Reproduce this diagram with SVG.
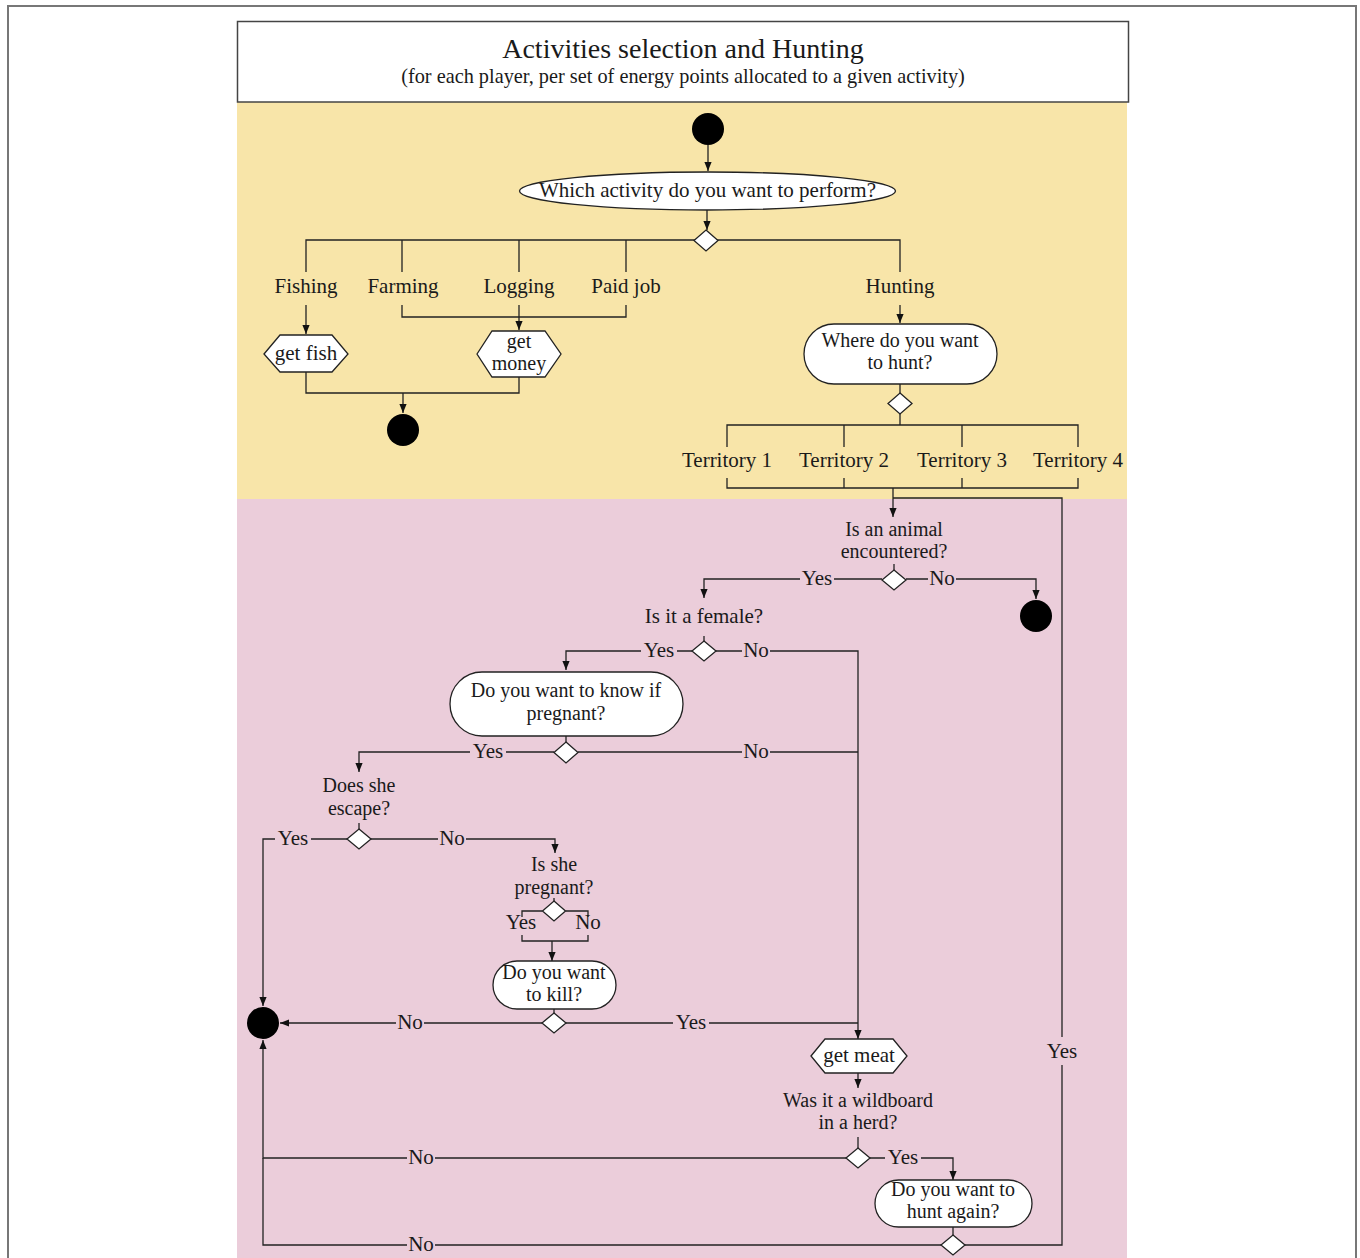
<svg xmlns="http://www.w3.org/2000/svg" width="1360" height="1258" viewBox="0 0 1360 1258">
<defs>
<style>
text{font-family:"Liberation Serif","Times New Roman",serif;fill:#1a1a1a;font-size:21px;text-anchor:middle}
.m{font-size:20px}
.t1{font-size:28px}
.t2{font-size:20.3px}
.ln{fill:none;stroke:#222;stroke-width:1.3}
.arr{marker-end:url(#ah)}
.shape{fill:#fff;stroke:#222;stroke-width:1.3}
.dot{fill:#000}
</style>
<marker id="ah" viewBox="0 0 10 8" refX="10" refY="4" markerWidth="9" markerHeight="7.2" markerUnits="userSpaceOnUse" orient="auto">
<path d="M0,0 L10,4 L0,8 z" fill="#111"/>
</marker>
</defs>
<rect x="8" y="6" width="1348" height="1270" fill="#fff" stroke="#777" stroke-width="2"/>
<rect x="237" y="102" width="890" height="397" fill="#f8e5a9"/>
<rect x="237" y="499" width="890" height="760" fill="#ebcdda"/>
<g id="title">
<rect x="237.5" y="21.5" width="891" height="80.5" fill="#fff" stroke="#444" stroke-width="1.5"/>
<text x="683" y="58"><tspan class="t1">Activities selection and Hunting</tspan><tspan class="t2" x="683" y="83">(for each player, per set of energy points allocated to a given activity)</tspan></text>
</g>
<g id="connectors">
<path class="ln arr" d="M708,145 V171"/>
<path class="ln arr" d="M707,210 V230"/>
<path class="ln" d="M306,272 V240 H900 V272 M402,240 V272 M519,240 V272 M626,240 V272"/>
<path class="ln arr" d="M306,305 V334"/>
<path class="ln" d="M402,305 V317 H626 V305"/>
<path class="ln arr" d="M519,305 V330"/>
<path class="ln" d="M306,372 V393 H519 V377"/>
<path class="ln arr" d="M403,393 V413"/>
<path class="ln arr" d="M900,305 V323"/>
<path class="ln" d="M900,384 V393 M900,414 V425"/>
<path class="ln" d="M727,447 V425 H1078 V447 M844,425 V447 M962,425 V447"/>
<path class="ln" d="M727,478 V488 H1078 V478 M844,478 V488 M962,478 V488"/>
<path class="ln arr" d="M893,488 V517"/>
<path class="ln" d="M965,1245 H1062 V1065 M1062,1037 V498 H893"/>
<path class="ln" d="M894,564 V570"/>
<path class="ln arr" d="M882,579 H834 M800,579 H704 V598"/>
<path class="ln arr" d="M906,579 H928 M956,579 H1036 V599"/>
<path class="ln" d="M704,636 V641"/>
<path class="ln arr" d="M692,651 H677 M641,651 H566 V670"/>
<path class="ln arr" d="M716,651 H742 M770,651 H858 V1039"/>
<path class="ln" d="M566,736 V742"/>
<path class="ln arr" d="M554,752 H506 M470,752 H359 V772"/>
<path class="ln" d="M578,752 H742 M770,752 H858"/>
<path class="ln" d="M359,823 V829"/>
<path class="ln arr" d="M347,839 H311 M275,839 H263 V1006"/>
<path class="ln arr" d="M371,839 H438 M466,839 H555 V853"/>
<path class="ln" d="M554,898 V901"/>
<path class="ln" d="M542.5,911 H522 V917 M565.5,911 H588 V917"/>
<path class="ln" d="M522,935 V941 H588 V935"/>
<path class="ln arr" stroke-width="2" d="M552,941 V961"/>
<path class="ln" d="M554,1009 V1013"/>
<path class="ln arr" d="M542,1023 H424 M396,1023 H280"/>
<path class="ln" d="M566,1023 H673 M709,1023 H858"/>
<path class="ln arr" d="M858,1073 V1088"/>
<path class="ln" d="M858,1137 V1148"/>
<path class="ln arr" d="M846,1158 H435 M407,1158 H263 V1040"/>
<path class="ln arr" d="M870,1158 H885 M921,1158 H953 V1180"/>
<path class="ln" d="M953,1227 V1235"/>
<path class="ln" d="M941,1245 H435 M407,1245 H263 V1158"/>
</g>
<g id="edge-labels">
<text x="817" y="585">Yes</text>
<text x="942" y="585">No</text>
<text x="659" y="657">Yes</text>
<text x="756" y="657">No</text>
<text x="488" y="758">Yes</text>
<text x="756" y="758">No</text>
<text x="293" y="845">Yes</text>
<text x="452" y="845">No</text>
<text x="521" y="929">Yes</text>
<text x="588" y="929">No</text>
<text x="410" y="1029">No</text>
<text x="691" y="1029">Yes</text>
<text x="421" y="1164">No</text>
<text x="903" y="1164">Yes</text>
<text x="421" y="1251">No</text>
<text x="1062" y="1058">Yes</text>
<text x="306" y="293">Fishing</text>
<text x="403" y="293">Farming</text>
<text x="519" y="293">Logging</text>
<text x="626" y="293">Paid job</text>
<text x="900" y="293">Hunting</text>
<text x="727" y="467">Territory 1</text>
<text x="844" y="467">Territory 2</text>
<text x="962" y="467">Territory 3</text>
<text x="1078" y="467">Territory 4</text>
</g>
<g id="start"><circle class="dot" cx="708" cy="129" r="16"/></g>
<g id="which-activity">
<ellipse class="shape" cx="707.5" cy="191" rx="188" ry="19"/>
<text x="707.5" y="197">Which activity do you want to perform?</text>
</g>
<g id="d-activity"><path class="shape" d="M706,230 L718,240.5 L706,251 L694,240.5 z"/></g>
<g id="get-fish">
<path class="shape" d="M264,354 L280,335 L332,335 L348,354 L332,372 L280,372 z"/>
<text x="306" y="360">get fish</text>
</g>
<g id="get-money">
<path class="shape" d="M477,354 L492,331 L545,331 L561,354 L545,377 L492,377 z"/>
<text class="m" x="519" y="347.8">get<tspan x="519" y="370.2">money</tspan></text>
</g>
<g id="end1"><circle class="dot" cx="403" cy="430" r="16"/></g>
<g id="where-hunt">
<rect class="shape" x="804" y="324" width="193" height="60" rx="30"/>
<text class="m" x="900" y="346.8">Where do you want<tspan x="900" y="369.2">to hunt?</tspan></text>
</g>
<g id="d-where"><path class="shape" d="M900,393 L912,403.5 L900,414 L888,403.5 z"/></g>
<g id="animal">
<text class="m" x="894" y="535.8">Is an animal<tspan x="894" y="558.2">encountered?</tspan></text>
<path class="shape" d="M894,570 L906,580 L894,590 L882,580 z"/>
</g>
<g id="end2"><circle class="dot" cx="1036" cy="616" r="16"/></g>
<g id="female">
<text x="704" y="623">Is it a female?</text>
<path class="shape" d="M704,641 L716,651 L704,661 L692,651 z"/>
</g>
<g id="know-pregnant">
<rect class="shape" x="450" y="672" width="233" height="64" rx="32"/>
<text class="m" x="566" y="697.3">Do you want to know if<tspan x="566" y="719.7">pregnant?</tspan></text>
</g>
<g id="d-know"><path class="shape" d="M566,742 L578,752.5 L566,763 L554,752.5 z"/></g>
<g id="escape">
<text class="m" x="359" y="792.3">Does she<tspan x="359" y="814.7">escape?</tspan></text>
<path class="shape" d="M359,829 L371,839 L359,849 L347,839 z"/>
</g>
<g id="is-pregnant">
<text class="m" x="554" y="871.3">Is she<tspan x="554" y="893.7">pregnant?</tspan></text>
<path class="shape" d="M554,901 L565.5,911 L554,921 L542.5,911 z"/>
</g>
<g id="kill">
<rect class="shape" x="493" y="961" width="123" height="48" rx="24"/>
<text class="m" x="554" y="978.8">Do you want<tspan x="554" y="1001.2">to kill?</tspan></text>
</g>
<g id="d-kill"><path class="shape" d="M554,1013 L566,1023 L554,1033 L542,1023 z"/></g>
<g id="end3"><circle class="dot" cx="263" cy="1023" r="16"/></g>
<g id="get-meat">
<path class="shape" d="M811,1056 L825,1039 L893,1039 L907,1056 L893,1073 L825,1073 z"/>
<text x="859" y="1062">get meat</text>
</g>
<g id="wildboard">
<text class="m" x="858" y="1106.8">Was it a wildboard<tspan x="858" y="1129.2">in a herd?</tspan></text>
<path class="shape" d="M858,1148 L870,1158 L858,1168 L846,1158 z"/>
</g>
<g id="hunt-again">
<rect class="shape" x="875" y="1180" width="157" height="47" rx="23.5"/>
<text class="m" x="953" y="1195.8">Do you want to<tspan x="953" y="1218.2">hunt again?</tspan></text>
</g>
<g id="d-again"><path class="shape" d="M953,1235 L965,1245 L953,1255 L941,1245 z"/></g>
</svg>
